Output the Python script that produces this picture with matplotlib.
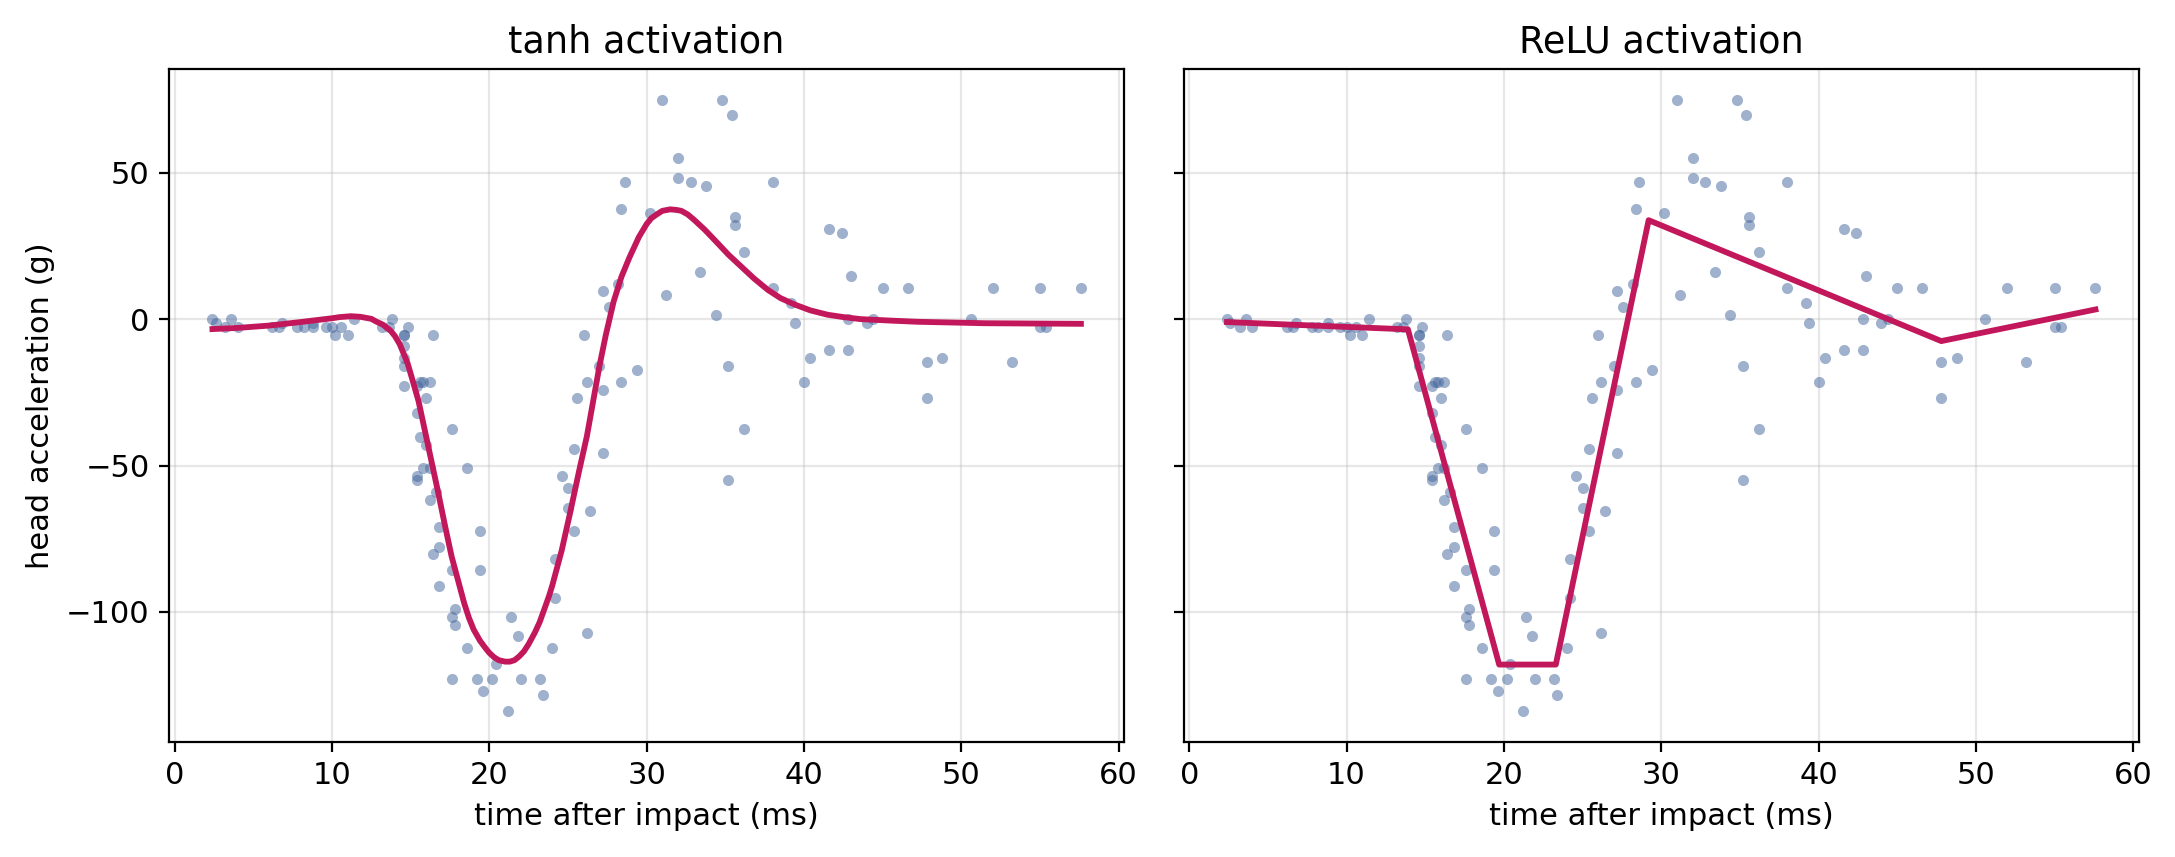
import matplotlib
matplotlib.use("Agg")
import matplotlib.pyplot as plt

plt.rcParams['font.size'] = 11

# mcycle data: time after impact (ms) and head acceleration (g)
times = [2.4, 2.6, 3.2, 3.6, 4.0, 6.2, 6.6, 6.8, 7.8, 8.2, 8.8, 8.8, 9.6, 10.0, 10.2, 10.6, 11.0, 11.4,
         13.2, 13.6, 13.8, 14.6, 14.6, 14.6, 14.6, 14.6, 14.6, 14.8, 15.4, 15.4, 15.4, 15.4, 15.6, 15.6,
         15.8, 15.8, 16.0, 16.0, 16.2, 16.2, 16.2, 16.4, 16.4, 16.6, 16.8, 16.8, 16.8, 17.6, 17.6, 17.6,
         17.6, 17.8, 17.8, 18.6, 18.6, 19.2, 19.4, 19.4, 19.6, 20.2, 20.4, 21.2, 21.4, 21.8, 22.0, 23.2,
         23.4, 24.0, 24.2, 24.2, 24.6, 25.0, 25.0, 25.4, 25.4, 25.6, 26.0, 26.2, 26.2, 26.4, 27.0, 27.2,
         27.2, 27.2, 27.6, 28.2, 28.4, 28.4, 28.6, 29.4, 30.2, 31.0, 31.2, 32.0, 32.0, 32.8, 33.4, 33.8,
         34.4, 34.8, 35.2, 35.2, 35.4, 35.6, 35.6, 36.2, 36.2, 38.0, 38.0, 39.2, 39.4, 40.0, 40.4, 41.6,
         41.6, 42.4, 42.8, 42.8, 43.0, 44.0, 44.4, 45.0, 46.6, 47.8, 47.8, 48.8, 50.6, 52.0, 53.2, 55.0,
         55.0, 55.4, 57.6]
accel = [0.0, -1.3, -2.7, 0.0, -2.7, -2.7, -2.7, -1.3, -2.7, -2.7, -1.3, -2.7, -2.7, -2.7, -5.4, -2.7,
         -5.4, 0.0, -2.7, -2.7, 0.0, -13.3, -5.4, -5.4, -9.3, -16.0, -22.8, -2.7, -22.8, -32.1, -53.5,
         -54.9, -40.2, -21.5, -21.5, -50.8, -42.9, -26.8, -21.5, -50.8, -61.7, -5.4, -80.4, -59.0, -71.0,
         -91.1, -77.7, -37.5, -85.6, -123.1, -101.9, -99.1, -104.4, -112.5, -50.8, -123.1, -85.6, -72.3,
         -127.2, -123.1, -117.9, -134.0, -101.9, -108.4, -123.1, -123.1, -128.5, -112.5, -95.1, -81.8,
         -53.5, -64.4, -57.6, -72.3, -44.3, -26.8, -5.4, -107.1, -21.5, -65.6, -16.0, -45.6, -24.2, 9.5,
         4.0, 12.0, -21.5, 37.5, 46.9, -17.4, 36.2, 75.0, 8.1, 54.9, 48.2, 46.9, 16.0, 45.6, 1.3, 75.0,
         -16.0, -54.9, 69.6, 34.8, 32.1, -37.5, 22.8, 46.9, 10.7, 5.4, -1.3, -21.5, -13.3, 30.8, -10.7,
         29.4, 0.0, -10.7, 14.7, -1.3, 0.0, 10.7, 10.7, -26.8, -14.7, -13.3, 0.0, 10.7, -14.7, -2.7,
         10.7, -2.7, 10.7]

# fitted curves
tanh_x = [2.4, 4, 6, 8, 10, 10.5, 11.2, 11.8, 12.2, 12.5, 12.8, 13.2, 13.5, 13.7, 14.0, 14.3, 14.8,
          15.1, 15.5, 15.8, 16.1, 16.4, 16.7, 17.2, 17.6, 18.0, 18.4, 18.7, 19.0, 19.4, 19.7, 20.0,
          20.3, 20.6, 21.0, 21.3, 21.6, 21.9, 22.2, 22.5, 22.9, 23.2, 23.5, 23.8, 24.0, 24.3, 24.6,
          24.85, 25.1, 25.4, 25.7, 25.95, 26.2, 26.6, 27.0, 27.4, 27.9, 28.4, 28.9, 29.5, 30.0, 30.3,
          30.7, 31.0, 31.5, 31.9, 32.2, 32.6, 33.0, 33.7, 34.5, 35.2, 36.0, 36.8, 37.7, 38.5, 39.4,
          40.4, 41.5, 42.5, 43.6, 45.5, 47.2, 51.5, 57.6]
tanh_y = [-3.4, -3.0, -2.2, -1.0, 0.3, 0.7, 1.0, 0.8, 0.4, 0.1, -0.8, -1.8, -3.0, -3.8, -5.8, -8.5,
          -15, -20.5, -28, -35.5, -43, -50.5, -58, -71, -81, -89, -97, -102, -106, -109.8, -112,
          -114, -115.5, -116.5, -117, -117, -116.5, -115.2, -113.5, -111, -107, -103.5, -99, -94.5,
          -91, -85, -79, -73, -67, -59.5, -52, -46, -40, -28, -16, -5.5, 6, 14.5, 21, 28, 32.5,
          34.5, 36, 37, 37.5, 37.3, 37, 35.8, 34, 30.5, 26, 22, 18, 14, 10, 7.2, 5, 3, 1.5, 0.7, 0,
          -0.5, -0.9, -1.4, -1.6]

relu_x = [2.4, 13.9, 19.7, 23.3, 29.2, 47.8, 57.6]
relu_y = [-1.0, -3.5, -118.0, -118.0, 33.8, -7.5, 3.3]

dot_color = '#41659b'
line_color = '#c2185b'

fig, axes = plt.subplots(1, 2, figsize=(10.875, 4.285), dpi=200, sharey=True)
fig.subplots_adjust(left=0.0777, right=0.9834, top=0.9195, bottom=0.1342, wspace=0.062)

fits = [(tanh_x, tanh_y, "tanh activation"), (relu_x, relu_y, "ReLU activation")]
for ax, (fx, fy, title) in zip(axes, fits):
    ax.scatter(times, accel, s=16, color=dot_color, alpha=0.5, linewidths=0, zorder=2)
    ax.plot(fx, fy, color=line_color, lw=2.1, zorder=3)
    ax.grid(True, alpha=0.3)
    ax.set_axisbelow(True)
    ax.set_title(title)
    ax.set_xlabel("time after impact (ms)")

axes[0].set_ylabel("head acceleration (g)")

plt.savefig("out.png", dpi=200)
